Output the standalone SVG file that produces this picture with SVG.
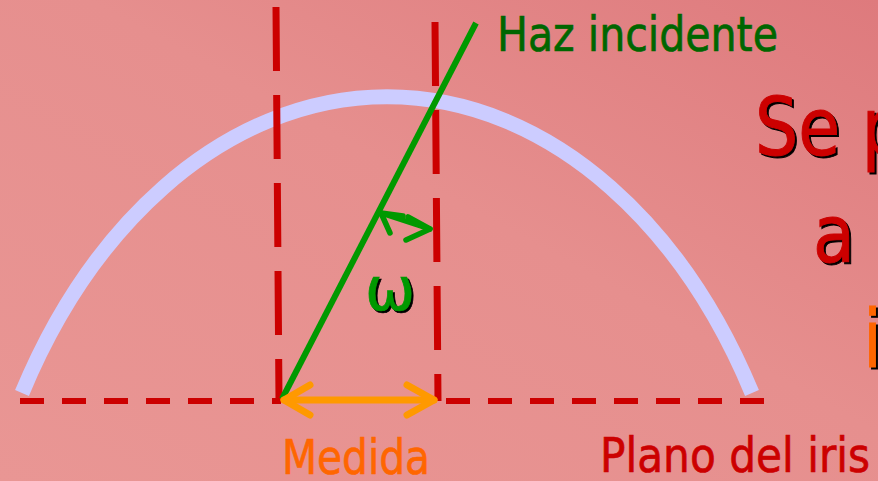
<svg xmlns="http://www.w3.org/2000/svg" width="878" height="481" viewBox="0 0 878 481">
  <defs>
    <linearGradient id="bg" x1="0" y1="1" x2="1" y2="0">
      <stop offset="0" stop-color="#e99694"/>
      <stop offset="0.55" stop-color="#e68f8e"/>
      <stop offset="1" stop-color="#de7a7d"/>
    </linearGradient>
  </defs>
  <style>
    .dash-v { stroke: #cc0000; stroke-width: 7; fill: none; stroke-dasharray: 64 24; }
    .dash-h { stroke: #cc0000; stroke-width: 6; fill: none; stroke-dasharray: 24 18; }
    .green { stroke: #009900; fill: none; stroke-linecap: round; stroke-linejoin: round; }
    .orange { stroke: #ff9900; fill: none; stroke-width: 7; stroke-linecap: round; stroke-linejoin: round; }
    .lbl { font-family: "DejaVu Sans", "Liberation Sans", sans-serif; font-size: 48px; stroke-width: 0.7px; }
    .big { font-family: "DejaVu Sans", "Liberation Sans", sans-serif; font-size: 80px; stroke-width: 1px; }
  </style>
  <rect x="0" y="0" width="878" height="481" fill="url(#bg)"/>

  <g id="cornea">
    <path d="M 22 393 A 424 603 0 0 1 752 393" fill="none" stroke="#ccccff" stroke-width="15"/>
  </g>

  <g id="plano-iris-line">
    <line class="dash-h" x1="20" y1="401" x2="281" y2="401"/>
    <line class="dash-h" x1="446" y1="401" x2="766" y2="401"/>
  </g>

  <g id="vertical-left">
    <line class="dash-v" x1="276" y1="7" x2="279" y2="401"/>
  </g>
  <g id="vertical-right">
    <line class="dash-v" x1="435" y1="22" x2="438" y2="401"/>
  </g>

  <g id="connectors">
    <line class="green" style="stroke-linecap:butt" stroke-width="6" x1="282" y1="399" x2="476" y2="23"/>
    <g id="angle-arrow" class="green" stroke-width="5.5">
      <line x1="381" y1="213" x2="430" y2="229"/>
      <polyline points="403,216 381,213 390,233"/>
      <polyline points="408,217 430,229 406,240"/>
    </g>
    <g id="medida-arrow" class="orange">
      <line x1="284" y1="400" x2="434" y2="400"/>
      <polyline points="310,385 284,400 310,415"/>
      <polyline points="407,385 434,400 407,415"/>
    </g>
  </g>

  <g id="omega">
    <text x="392" y="312" class="lbl" text-anchor="middle" fill="#000000" stroke="#000000" style="font-size:60px">ω</text>
    <text x="390" y="310" class="lbl" text-anchor="middle" fill="#009900" stroke="#009900" style="font-size:60px">ω</text>
  </g>

  <g id="haz-incidente">
    <text x="497" y="51" class="lbl" fill="#006600" stroke="#006600" textLength="281" lengthAdjust="spacingAndGlyphs">Haz incidente</text>
  </g>
  <g id="medida">
    <text x="282" y="474" class="lbl" fill="#ff6600" stroke="#ff6600" textLength="148" lengthAdjust="spacingAndGlyphs">Medida</text>
  </g>
  <g id="plano-del-iris">
    <text x="600" y="472" class="lbl" fill="#cc0000" stroke="#cc0000" textLength="270" lengthAdjust="spacingAndGlyphs">Plano del iris</text>
  </g>

  <g id="side-text">
    <text x="757" y="157" class="big" fill="#000000" stroke="#000000" textLength="150" lengthAdjust="spacingAndGlyphs">Se p</text>
    <text x="755" y="155" class="big" fill="#cc0000" stroke="#cc0000" textLength="150" lengthAdjust="spacingAndGlyphs">Se p</text>
    <text x="815" y="264" class="big" fill="#000000" stroke="#000000" textLength="42" lengthAdjust="spacingAndGlyphs">a</text>
    <text x="813" y="262" class="big" fill="#cc0000" stroke="#cc0000" textLength="42" lengthAdjust="spacingAndGlyphs">a</text>
    <text x="865" y="369" class="big" fill="#000000" stroke="#000000" textLength="19" lengthAdjust="spacingAndGlyphs">i</text>
    <text x="863" y="367" class="big" fill="#ff6600" stroke="#ff6600" textLength="19" lengthAdjust="spacingAndGlyphs">i</text>
  </g>
</svg>
